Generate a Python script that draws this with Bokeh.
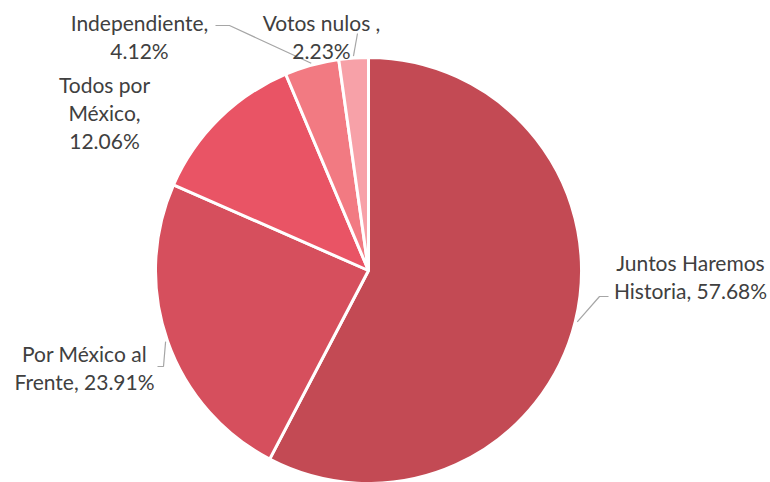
import math
from bokeh.plotting import figure
from bokeh.models import Range1d, ColumnDataSource
from bokeh.core.properties import value
from bokeh.embed import file_html
from bokeh.resources import INLINE

# ---- data ----
categories = ["Juntos Haremos Historia", "Por México al Frente", "Todos por México",
              "Independiente", "Votos nulos "]
shares = [57.68, 23.91, 12.06, 4.12, 2.23]
label_text = ["Juntos Haremos\nHistoria, 57.68%",
              "Por México al\nFrente, 23.91%",
              "Todos por\nMéxico,\n12.06%",
              "Independiente,\n4.12%",
              "Votos nulos ,\n2.23%"]

# ---- styles / layout ----
colors = ["#C34A54", "#D64F5D", "#E95465", "#F27A82", "#F7A1A8"]
W, H = 770, 482
def sx(x): return x
def sy(y): return H - y  # screen y -> data y

cx, cy, R = 368, sy(270), 213
label_pos = [(690, 276), (84, 367), (104, 112), (139, 36), (321, 36)]
# leader: elbow and end points (screen), None if no leader
leaders = [[(599, 296), (608, 296)],
           [(163, 366), (157, 366)],
           None,
           [(229, 25), (215, 25)],
           [(357, 33)]]

p = figure(width=W, height=H, x_range=Range1d(0, W), y_range=Range1d(0, H),
           output_backend="svg", toolbar_location=None, min_border=0)
p.axis.visible = False
p.grid.visible = False
p.outline_line_color = None
p.background_fill_color = "white"
p.border_fill_color = "white"

total = sum(shares)
starts, ends, mids = [], [], []
a = math.pi / 2
for v in shares:
    span = 2 * math.pi * v / total
    starts.append(a - span)
    ends.append(a)
    mids.append(a - span / 2)
    a -= span

src = ColumnDataSource(dict(start=starts, end=ends, color=colors, cat=categories))
p.wedge(x=cx, y=cy, radius=R, start_angle="start", end_angle="end",
        fill_color="color", line_color="white", line_width=3, source=src)

# leader lines
for m, ld in zip(mids, leaders):
    if ld is None:
        continue
    r0 = R + 2
    xs = [cx + r0 * math.cos(m)]
    ys = [cy + r0 * math.sin(m)]
    for (x, y) in ld:
        xs.append(sx(x))
        ys.append(sy(y))
    p.line(xs, ys, line_color="#A6A6A6", line_width=1.2)

lsrc = ColumnDataSource(dict(x=[sx(x) for x, _ in label_pos], y=[sy(y) for _, y in label_pos],
                             text=label_text))
p.text(x="x", y="y", text="text", source=lsrc, text_align="center", text_baseline="middle",
       text_font=value("Lato"), text_font_size="21px", text_color="#404040",
       text_line_height=1.13)

open("out.html", "w").write(file_html(p, INLINE))
